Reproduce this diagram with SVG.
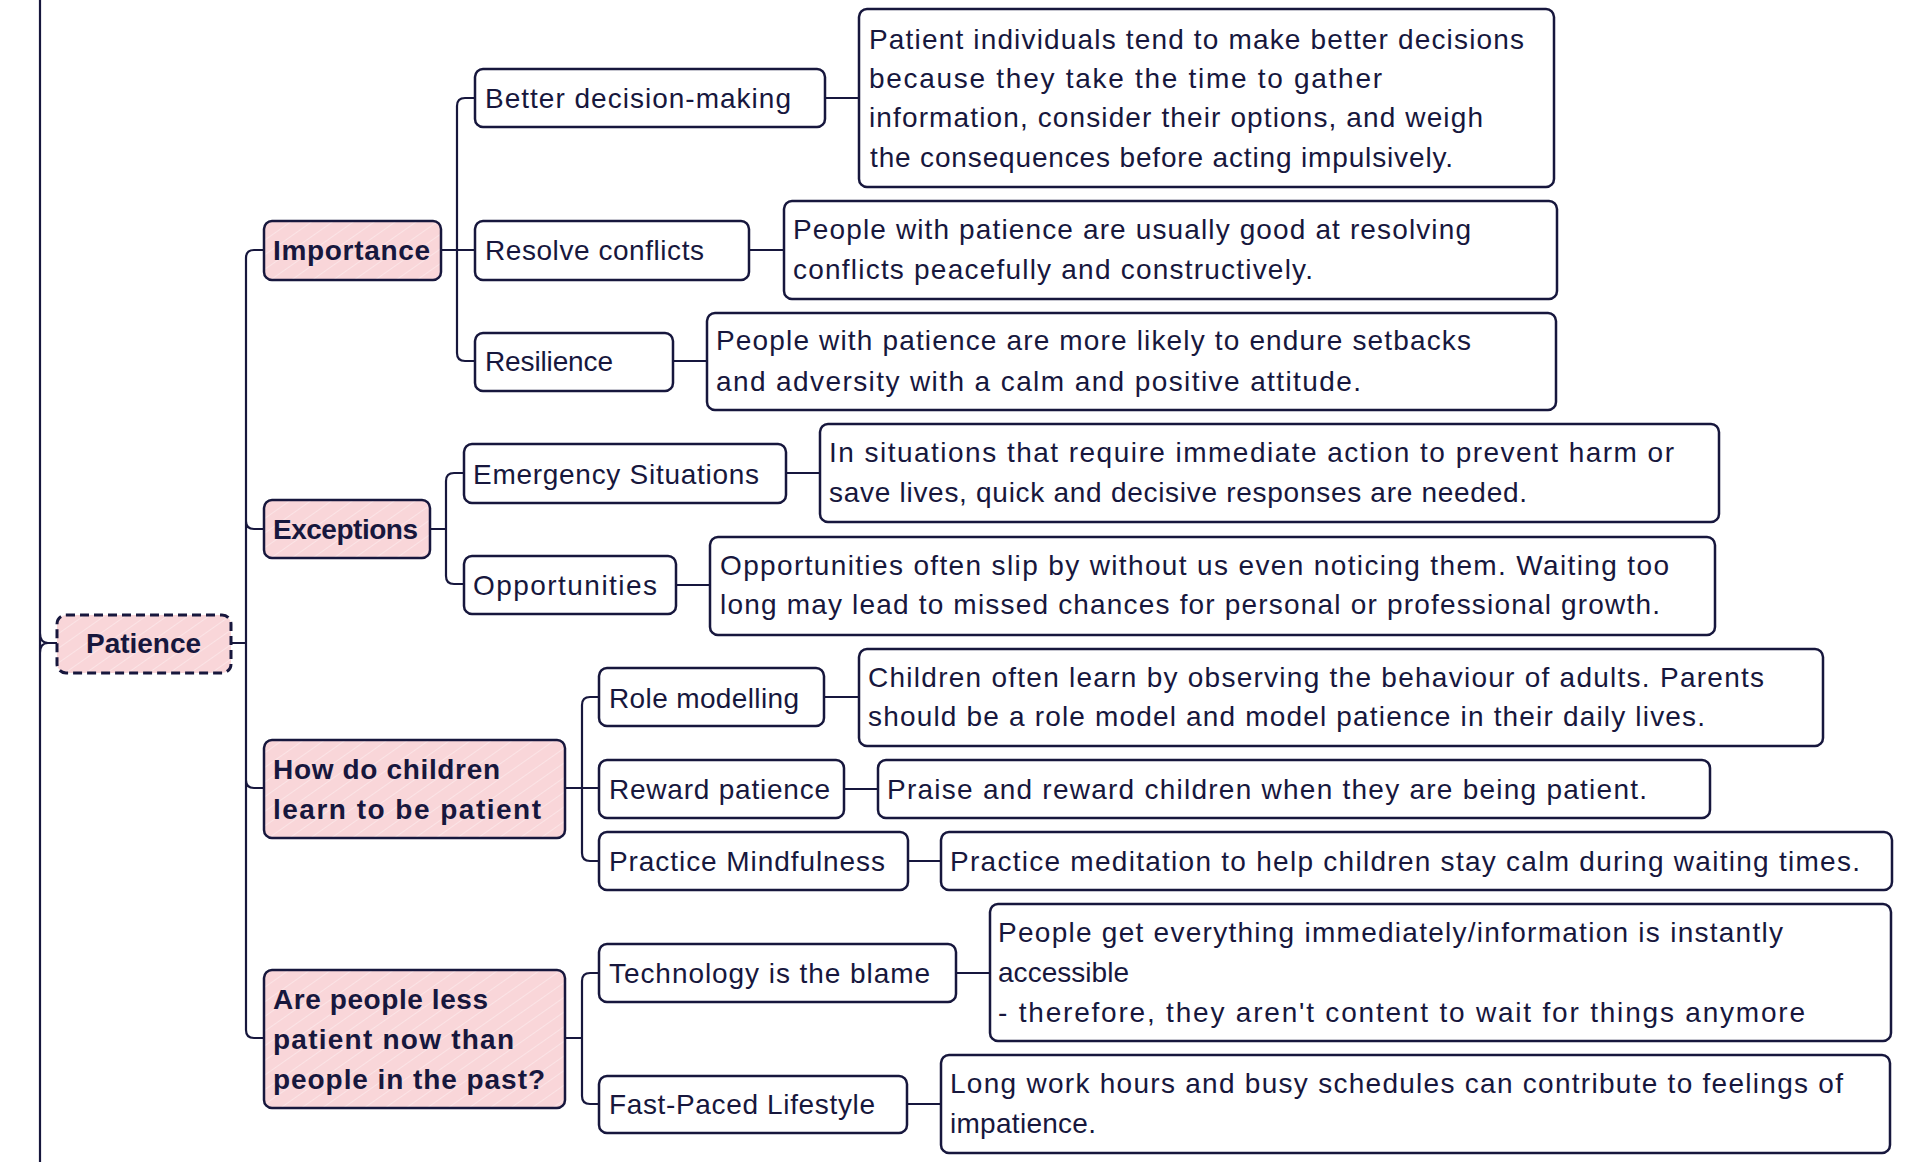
<svg xmlns="http://www.w3.org/2000/svg" width="1920" height="1162" viewBox="0 0 1920 1162">
<style>
.t{font-family:"Liberation Sans",Arial,sans-serif;font-size:28px;fill:#17173d}
.b{font-weight:bold}
.n{fill:#ffffff;stroke:#17173d;stroke-width:2.5}
.p{fill:url(#hatch);stroke:#17173d;stroke-width:2.5}
.d{stroke-dasharray:9 5;stroke-width:3}
.c{fill:none;stroke:#17173d;stroke-width:2.2;stroke-linecap:round}
</style>
<defs>
<pattern id="hatch" patternUnits="userSpaceOnUse" width="12" height="12" patternTransform="rotate(55)">
<rect width="12" height="12" fill="#f9d6d9"/>
<line x1="0" y1="0" x2="0" y2="12" stroke="#ffffff" stroke-opacity="0.55" stroke-width="1.2"/>
</pattern>
</defs>
<rect width="1920" height="1162" fill="#ffffff"/>
<g id="connectors">
<path class="c" d="M40,0 V1162 M40,633 Q40,643 48,643 H57 M40,653 Q40,643 48,643"/>
<path class="c" d="M231,643 H246 M264,250 H254 Q246,250 246,258 V1030 Q246,1038 254,1038 H264 M246,521 Q246,529 254,529 H264 M246,780 Q246,788 254,788 H264"/>
<path class="c" d="M441,250 H475 M475,98 H465 Q457,98 457,106 V353 Q457,361 465,361 H475"/>
<path class="c" d="M430,529 H446 M464,473 H454 Q446,473 446,481 V576 Q446,584 454,584 H464"/>
<path class="c" d="M565,788 H599 M599,697 H590 Q582,697 582,705 V853 Q582,861 590,861 H599"/>
<path class="c" d="M565,1038 H582 M599,973 H590 Q582,973 582,981 V1096 Q582,1104 590,1104 H599"/>
<path class="c" d="M825,98 H859 M749,250 H784 M673,361 H707 M786,473 H820 M676,585 H710 M824,697 H859 M844,789 H878 M908,861 H941 M956,973 H990 M907,1104 H941"/>
</g>
<g id="patience">
<rect class="p d" x="57" y="615" width="174" height="58" rx="9"/>
<text class="t b" x="86" y="653" textLength="115" lengthAdjust="spacing">Patience</text>
</g>
<g id="importance">
<rect class="p" x="264" y="221" width="177" height="59" rx="8"/>
<text class="t b" x="273" y="260" textLength="157" lengthAdjust="spacing">Importance</text>
</g>
<g id="exceptions">
<rect class="p" x="264" y="500" width="166" height="58" rx="8"/>
<text class="t b" x="273" y="539" textLength="145" lengthAdjust="spacing">Exceptions</text>
</g>
<g id="how-children">
<rect class="p" x="264" y="740" width="301" height="98" rx="8"/>
<text class="t b" x="273" y="779" textLength="227" lengthAdjust="spacing">How do children</text>
<text class="t b" x="273" y="819" textLength="268" lengthAdjust="spacing">learn to be patient</text>
</g>
<g id="are-people">
<rect class="p" x="264" y="970" width="301" height="138" rx="8"/>
<text class="t b" x="273" y="1009" textLength="215" lengthAdjust="spacing">Are people less</text>
<text class="t b" x="273" y="1049" textLength="241" lengthAdjust="spacing">patient now than</text>
<text class="t b" x="273" y="1089" textLength="272" lengthAdjust="spacing">people in the past?</text>
</g>
<g id="better-decision">
<rect class="n" x="475" y="69" width="350" height="58" rx="8"/>
<text class="t" x="485" y="108" textLength="306" lengthAdjust="spacing">Better decision-making</text>
</g>
<g id="better-decision-desc">
<rect class="n" x="859" y="9" width="695" height="178" rx="8"/>
<text class="t" x="869" y="49" textLength="655" lengthAdjust="spacing">Patient individuals tend to make better decisions</text>
<text class="t" x="869" y="88" textLength="513" lengthAdjust="spacing">because they take the time to gather</text>
<text class="t" x="869" y="127" textLength="614" lengthAdjust="spacing">information, consider their options, and weigh</text>
<text class="t" x="870" y="167" textLength="583" lengthAdjust="spacing">the consequences before acting impulsively.</text>
</g>
<g id="resolve">
<rect class="n" x="475" y="221" width="274" height="59" rx="8"/>
<text class="t" x="485" y="260" textLength="219" lengthAdjust="spacing">Resolve conflicts</text>
</g>
<g id="resolve-desc">
<rect class="n" x="784" y="201" width="773" height="98" rx="8"/>
<text class="t" x="793" y="239" textLength="678" lengthAdjust="spacing">People with patience are usually good at resolving</text>
<text class="t" x="793" y="279" textLength="520" lengthAdjust="spacing">conflicts peacefully and constructively.</text>
</g>
<g id="resilience">
<rect class="n" x="475" y="333" width="198" height="58" rx="8"/>
<text class="t" x="485" y="371" textLength="128" lengthAdjust="spacing">Resilience</text>
</g>
<g id="resilience-desc">
<rect class="n" x="707" y="313" width="849" height="97" rx="8"/>
<text class="t" x="716" y="350" textLength="755" lengthAdjust="spacing">People with patience are more likely to endure setbacks</text>
<text class="t" x="716" y="391" textLength="645" lengthAdjust="spacing">and adversity with a calm and positive attitude.</text>
</g>
<g id="emergency">
<rect class="n" x="464" y="444" width="322" height="59" rx="8"/>
<text class="t" x="473" y="484" textLength="286" lengthAdjust="spacing">Emergency Situations</text>
</g>
<g id="emergency-desc">
<rect class="n" x="820" y="424" width="899" height="98" rx="8"/>
<text class="t" x="829" y="462" textLength="845" lengthAdjust="spacing">In situations that require immediate action to prevent harm or</text>
<text class="t" x="829" y="502" textLength="698" lengthAdjust="spacing">save lives, quick and decisive responses are needed.</text>
</g>
<g id="opportunities">
<rect class="n" x="464" y="556" width="212" height="58" rx="8"/>
<text class="t" x="473" y="595" textLength="184" lengthAdjust="spacing">Opportunities</text>
</g>
<g id="opportunities-desc">
<rect class="n" x="710" y="537" width="1005" height="98" rx="8"/>
<text class="t" x="720" y="575" textLength="949" lengthAdjust="spacing">Opportunities often slip by without us even noticing them. Waiting too</text>
<text class="t" x="720" y="614" textLength="940" lengthAdjust="spacing">long may lead to missed chances for personal or professional growth.</text>
</g>
<g id="role-modelling">
<rect class="n" x="599" y="668" width="225" height="58" rx="8"/>
<text class="t" x="609" y="708" textLength="190" lengthAdjust="spacing">Role modelling</text>
</g>
<g id="role-modelling-desc">
<rect class="n" x="859" y="649" width="964" height="97" rx="8"/>
<text class="t" x="868" y="687" textLength="896" lengthAdjust="spacing">Children often learn by observing the behaviour of adults. Parents</text>
<text class="t" x="868" y="726" textLength="837" lengthAdjust="spacing">should be a role model and model patience in their daily lives.</text>
</g>
<g id="reward">
<rect class="n" x="599" y="760" width="245" height="58" rx="8"/>
<text class="t" x="609" y="799" textLength="221" lengthAdjust="spacing">Reward patience</text>
</g>
<g id="reward-desc">
<rect class="n" x="878" y="760" width="832" height="58" rx="8"/>
<text class="t" x="887" y="799" textLength="760" lengthAdjust="spacing">Praise and reward children when they are being patient.</text>
</g>
<g id="mindfulness">
<rect class="n" x="599" y="832" width="309" height="58" rx="8"/>
<text class="t" x="609" y="871" textLength="276" lengthAdjust="spacing">Practice Mindfulness</text>
</g>
<g id="mindfulness-desc">
<rect class="n" x="941" y="832" width="951" height="58" rx="8"/>
<text class="t" x="950" y="871" textLength="910" lengthAdjust="spacing">Practice meditation to help children stay calm during waiting times.</text>
</g>
<g id="technology">
<rect class="n" x="599" y="944" width="357" height="58" rx="8"/>
<text class="t" x="609" y="983" textLength="321" lengthAdjust="spacing">Technology is the blame</text>
</g>
<g id="technology-desc">
<rect class="n" x="990" y="904" width="901" height="137" rx="8"/>
<text class="t" x="998" y="942" textLength="785" lengthAdjust="spacing">People get everything immediately/information is instantly</text>
<text class="t" x="998" y="982" textLength="131" lengthAdjust="spacing">accessible</text>
<text class="t" x="998" y="1022" textLength="807" lengthAdjust="spacing">- therefore, they aren't content to wait for things anymore</text>
</g>
<g id="fast-paced">
<rect class="n" x="599" y="1076" width="308" height="57" rx="8"/>
<text class="t" x="609" y="1114" textLength="266" lengthAdjust="spacing">Fast-Paced Lifestyle</text>
</g>
<g id="fast-paced-desc">
<rect class="n" x="941" y="1055" width="949" height="98" rx="8"/>
<text class="t" x="950" y="1093" textLength="893" lengthAdjust="spacing">Long work hours and busy schedules can contribute to feelings of</text>
<text class="t" x="950" y="1133" textLength="146" lengthAdjust="spacing">impatience.</text>
</g>
</svg>
